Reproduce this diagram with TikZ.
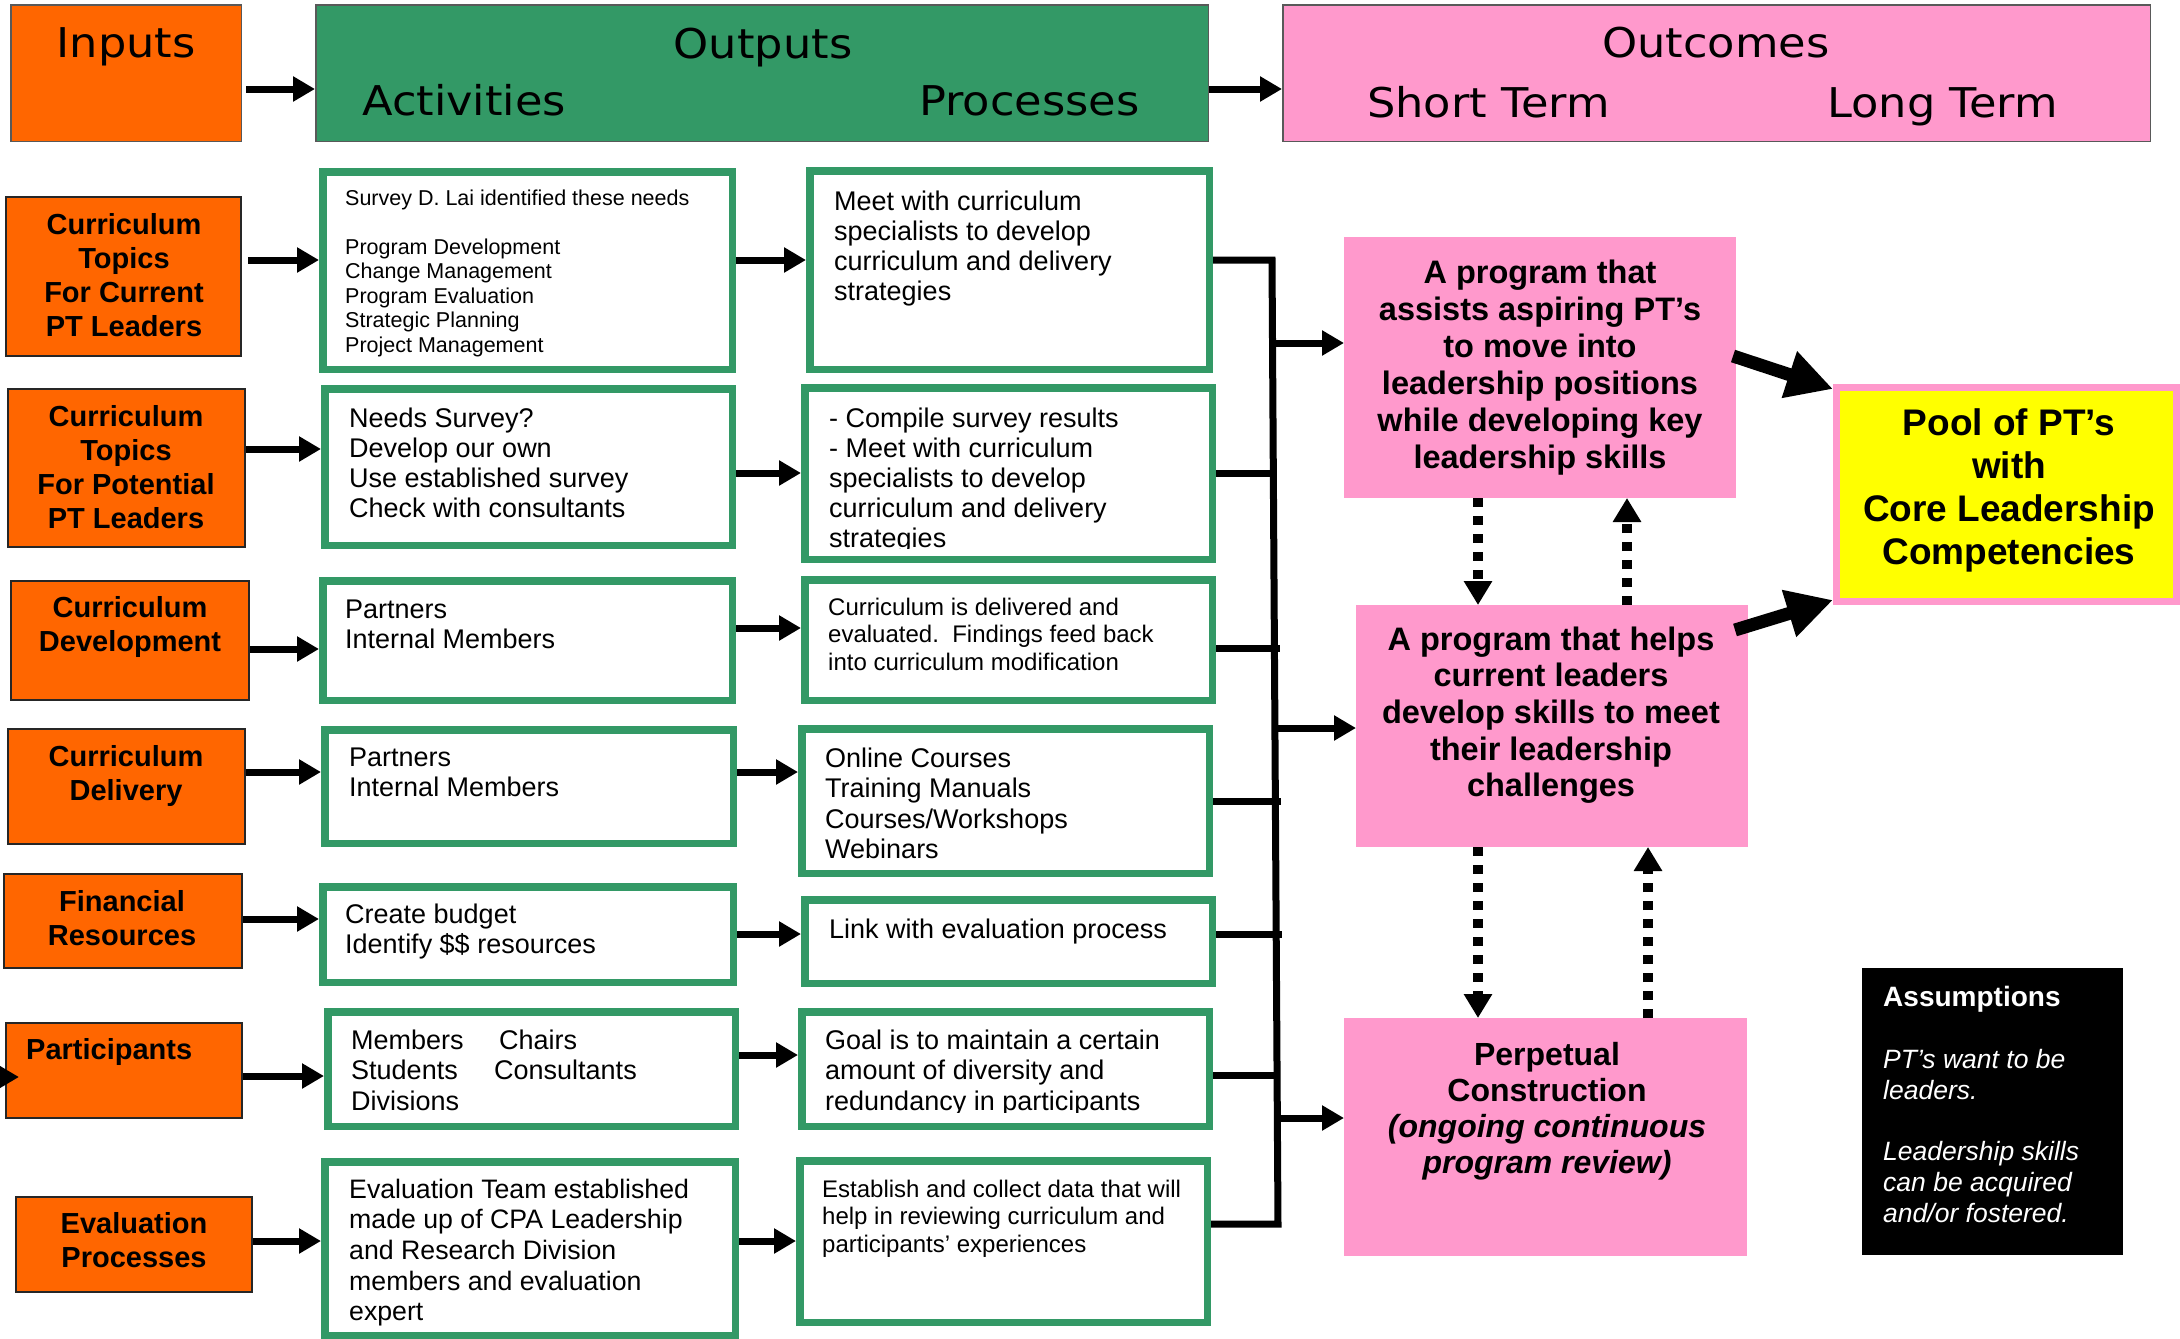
\documentclass[tikz,border=0pt]{standalone}
\usepackage{fontspec}
\setmainfont{Liberation Sans}
\newfontfamily\hdrfont[FakeStretch=1.09]{DejaVu Sans}
\usetikzlibrary{arrows.meta,calc}
\definecolor{org}{HTML}{FF6600}
\definecolor{grn}{HTML}{339966}
\definecolor{pnk}{HTML}{FF99CC}
\definecolor{ylw}{HTML}{FFFF00}
\newcommand\bx[7]{\node[#2,minimum width={#5-#3-#7},minimum height={#6-#4-#7}] (#1) at ({(#3+#5)/2},{(#4+#6)/2}) {};}
\newcommand\tl[1]{\begin{tabular}[t]{@{}l@{}}#1\end{tabular}}
\newcommand\tc[1]{\begin{tabular}[t]{@{}c@{}}#1\end{tabular}}
\begin{document}
\begin{tikzpicture}[x=1pt,y=-1pt,
  hdrbox/.style={draw=black!65,line width=1.5pt,inner sep=0pt},
  orgbox/.style={draw=black!85,fill=org,line width=2pt,inner sep=0pt},
  actbox/.style={draw=grn,fill=white,line width=7.5pt,inner sep=0pt},
  pinkbox/.style={fill=pnk,draw=none,inner sep=0pt,outer sep=0pt},
  yelbox/.style={fill=ylw,draw=pnk,line width=7pt,inner sep=0pt},
  assbox/.style={fill=black,draw=none,inner sep=0pt,outer sep=0pt},
  arr/.style={line width=7pt,-{Triangle[length=22pt,width=24pt]}},
  conn/.style={line width=7pt,line join=miter},
  bigarr/.style={line width=13pt,-{Triangle[length=46pt,width=46pt]}},
  dotarr/.style={line width=10pt,dash pattern=on 9pt off 9pt,-{Triangle[length=24pt,width=27pt]}},
  hdr/.style={inner sep=0pt,font=\hdrfont\fontsize{41}{48}\selectfont},
  otx/.style={inner sep=0pt,anchor=base,font=\bfseries\fontsize{29}{34}\selectfont},
  tx/.style={inner sep=0pt,anchor=base west,font=\fontsize{27}{30.5}\selectfont},
  stx/.style={inner sep=0pt,anchor=base west,font=\fontsize{24}{27.5}\selectfont},
  ptx/.style={inner sep=0pt,anchor=base,font=\bfseries\fontsize{32.5}{37}\selectfont}]
\useasboundingbox (0,0) rectangle (2180,1339);
\fill[white] (0,0) rectangle (2180,1339);
% header
\bx{hin}{hdrbox,fill=org}{10}{4}{242}{142}{1.5}
\bx{hout}{hdrbox,fill=grn}{315}{4}{1209}{142}{1.5}
\bx{hoc}{hdrbox,fill=pnk}{1282}{4}{2151}{142}{1.5}
\node[hdr,anchor=base] (tin) at (126,57) {Inputs};
\node[hdr,anchor=base] (tout) at (763,58) {Outputs};
\node[hdr,anchor=base west] (tact) at (362,115) {Activities};
\node[hdr,anchor=base west] (tproc) at (919,115) {Processes};
\node[hdr,anchor=base] (toc) at (1716,57) {Outcomes};
\node[hdr,anchor=base west] (tst) at (1367,117) {Short Term};
\node[hdr,anchor=base west] (tlt) at (1827,117) {Long Term};
\coordinate (hy) at (0,89);
\draw[arr] ($(hin.east |- hy)+(4,0)$) -- (hout.west |- hy);
\draw[arr] (hout.east |- hy) -- (hoc.west |- hy);
% inputs column
\bx{o1}{orgbox}{5}{196}{242}{357}{2}
\bx{o2}{orgbox}{7}{388}{246}{548}{2}
\bx{o3}{orgbox}{10}{580}{250}{701}{2}
\bx{o4}{orgbox}{7}{728}{246}{845}{2}
\bx{o5}{orgbox}{3}{873}{243}{969}{2}
\bx{o6}{orgbox}{5}{1022}{243}{1119}{2}
\bx{o7}{orgbox}{15}{1196}{253}{1293}{2}
\node[otx] (to1) at (124,234) {\tc{Curriculum\\Topics\\For Current\\PT Leaders}};
\node[otx] (to2) at (126,426) {\tc{Curriculum\\Topics\\For Potential\\PT Leaders}};
\node[otx] (to3) at (130,617) {\tc{Curriculum\\Development}};
\node[otx] (to4) at (126,766) {\tc{Curriculum\\Delivery}};
\node[otx] (to5) at (122,911) {\tc{Financial\\Resources}};
\node[otx,anchor=base west] (to6) at (26,1059) {Participants};
\node[otx] (to7) at (134,1233) {\tc{Evaluation\\Processes}};
% activities column
\bx{a1}{actbox}{319}{168}{736}{373}{7.5}
\bx{a2}{actbox}{321}{385}{736}{549}{7.5}
\bx{a3}{actbox}{319}{577}{736}{704}{7.5}
\bx{a4}{actbox}{321}{726}{737}{847}{7.5}
\bx{a5}{actbox}{319}{883}{737}{986}{7.5}
\bx{a6}{actbox}{324}{1008}{739}{1130}{7.5}
\bx{a7}{actbox}{321}{1158}{739}{1339}{7.5}
\node[tx,font=\fontsize{21.5}{24.5}\selectfont] (ta1) at (345,205) {\tl{Survey D. Lai identified these needs\\ \\Program Development\\Change Management\\Program Evaluation\\Strategic Planning\\Project Management}};
\node[tx,font=\fontsize{27}{30}\selectfont] (ta2) at (349,427) {\tl{Needs Survey?\\Develop our own\\Use established survey\\Check with consultants}};
\node[tx] (ta3) at (345,618) {\tl{Partners\\Internal Members}};
\node[tx] (ta4) at (349,766) {\tl{Partners\\Internal Members}};
\node[tx] (ta5) at (345,923) {\tl{Create budget\\Identify \$\$ resources}};
\node[tx] (ta6) at (351,1049) {\tl{\makebox[148pt][l]{Members}Chairs\\\makebox[143pt][l]{Students}Consultants\\Divisions}};
\node[tx,font=\fontsize{26.7}{30.7}\selectfont] (ta7) at (349,1198) {\tl{Evaluation Team established\\made up of CPA Leadership\\and Research Division\\members and evaluation\\expert}};
% processes column
\bx{p1}{actbox}{806}{167}{1213}{373}{7.5}
\bx{p2}{actbox}{801}{384}{1216}{563}{7.5}
\bx{p3}{actbox}{801}{576}{1216}{704}{7.5}
\bx{p4}{actbox}{798}{725}{1213}{877}{7.5}
\bx{p5}{actbox}{801}{896}{1216}{987}{7.5}
\bx{p6}{actbox}{798}{1008}{1213}{1130}{7.5}
\bx{p7}{actbox}{796}{1157}{1211}{1326}{7.5}
\node[tx,font=\fontsize{27}{30}\selectfont] (tp1) at (834,210) {\tl{Meet with curriculum\\specialists to develop\\curriculum and delivery\\strategies}};
\begin{scope}
\clip (801,384) rectangle (1216,548);
\node[tx,font=\fontsize{27}{30}\selectfont] (tp2) at (829,427) {\tl{- Compile survey results\\- Meet with curriculum\\specialists to develop\\curriculum and delivery\\strategies}};
\end{scope}
\node[stx] (tp3) at (828,615) {\tl{Curriculum is delivered and\\evaluated.\ \ Findings feed back\\into curriculum modification}};
\node[tx] (tp4) at (825,767) {\tl{Online Courses\\Training Manuals\\Courses/Workshops\\Webinars}};
\node[tx] (tp5) at (829,938) {Link with evaluation process};
\begin{scope}
\clip (798,1008) rectangle (1213,1112);
\node[tx] (tp6) at (825,1049) {\tl{Goal is to maintain a certain\\amount of diversity and\\redundancy in participants}};
\end{scope}
\node[stx] (tp7) at (822,1197) {\tl{Establish and collect data that will\\help in reviewing curriculum and\\participants’ experiences}};
% outcomes
\bx{r1}{pinkbox}{1344}{237}{1736}{498}{0}
\bx{r2}{pinkbox}{1356}{605}{1748}{847}{0}
\bx{r3}{pinkbox}{1344}{1018}{1747}{1256}{0}
\bx{yel}{yelbox}{1833}{384}{2180}{605}{7}
\bx{ass}{assbox}{1862}{968}{2123}{1255}{0}
\node[ptx] (tr1) at (1540,283) {\tc{A program that\\assists aspiring PT’s\\to move into\\leadership positions\\while developing key\\leadership skills}};
\node[ptx,font=\bfseries\fontsize{32.5}{36.7}\selectfont] (tr2) at (1551,650) {\tc{A program that helps\\current leaders\\develop skills to meet\\their leadership\\challenges}};
\node[ptx,font=\bfseries\fontsize{32}{36}\selectfont] (tr3) at (1547,1065) {\tc{Perpetual\\Construction\\\textit{(ongoing continuous}\\\textit{program review)}}};
\node[ptx,font=\bfseries\fontsize{37}{43}\selectfont] (tyel) at (2009,435) {\tc{Pool of PT’s\\with\\Core Leadership\\Competencies}};
\node[tx,text=white,font=\bfseries\fontsize{28}{32}\selectfont] (tass) at (1883,1006) {Assumptions};
\node[tx,text=white,font=\itshape\fontsize{26.5}{31}\selectfont] (tass2) at (1883,1068) {\tl{PT’s want to be\\leaders.\\[30pt]Leadership skills\\can be acquired\\and/or fostered.}};
% row arrows inputs -> activities
\coordinate (y1) at (0,260);
\coordinate (y2) at (0,449);
\coordinate (y3) at (0,649);
\coordinate (y4) at (0,772);
\coordinate (y5) at (0,919);
\coordinate (y6) at (0,1076);
\coordinate (y7) at (0,1241);
\draw[arr] ($(o1.east |- y1)+(6,0)$) -- (a1.west |- y1);
\draw[arr] (o2.east |- y2) -- (a2.west |- y2);
\draw[arr] (o3.east |- y3) -- (a3.west |- y3);
\draw[arr] (o4.east |- y4) -- (a4.west |- y4);
\draw[arr] (o5.east |- y5) -- (a5.west |- y5);
\draw[arr] (o6.east |- y6) -- (a6.west |- y6);
\draw[arr] (o7.east |- y7) -- (a7.west |- y7);
\coordinate (lin) at (-30,1077);
\draw[arr] (lin) -- ($(o6.west |- lin)+(14,0)$);
% activities -> processes
\coordinate (z1) at (0,260);
\coordinate (z2) at (0,473);
\coordinate (z3) at (0,628);
\coordinate (z4) at (0,772);
\coordinate (z5) at (0,934);
\coordinate (z6) at (0,1055);
\coordinate (z7) at (0,1241);
\draw[arr] (a1.east |- z1) -- (p1.west |- z1);
\draw[arr] (a2.east |- z2) -- (p2.west |- z2);
\draw[arr] (a3.east |- z3) -- (p3.west |- z3);
\draw[arr] (a4.east |- z4) -- (p4.west |- z4);
\draw[arr] (a5.east |- z5) -- (p5.west |- z5);
\draw[arr] (a6.east |- z6) -- (p6.west |- z6);
\draw[arr] (a7.east |- z7) -- (p7.west |- z7);
% bus
\coordinate (j1) at (1272,260);
\coordinate (j2) at (1273.3,473);
\coordinate (j3) at (1274.4,648);
\coordinate (j4) at (1275.3,801);
\coordinate (j5) at (1276.2,934);
\coordinate (j6) at (1277.1,1075);
\coordinate (j7) at (1278,1224);
\coordinate (k1) at (1272.5,343);
\coordinate (k2) at (1274.9,728);
\coordinate (k3) at (1277.3,1118);
\draw[conn] (p1.east |- j1) -- (j1) -- (j7) -- (p7.east |- j7);
\draw[conn] (p2.east |- j2) -- ($(j2)+(4,0)$);
\draw[conn] (p3.east |- j3) -- ($(j3)+(6,0)$);
\draw[conn] (p4.east |- j4) -- ($(j4)+(6,0)$);
\draw[conn] (p5.east |- j5) -- ($(j5)+(6,0)$);
\draw[conn] (p6.east |- j6) -- ($(j6)+(2,0)$);
\draw[arr] (k1) -- (r1.west |- k1);
\draw[arr] (k2) -- (r2.west |- k2);
\draw[arr] (k3) -- (r3.west |- k3);
% to pool
\draw[bigarr] ($(r1.north east)+(-3,119)$) -- ($(yel.north west)+(0,5)$);
\draw[bigarr] ($(r2.north east)+(-13,25)$) -- ($(yel.south west)+(0,-5)$);
% feedback dotted
\coordinate (d1s) at ($(r1.south west)+(134,0)$);
\coordinate (d2s) at ($(r2.north west)+(271,0)$);
\coordinate (d3s) at ($(r2.south west)+(122,0)$);
\coordinate (d4s) at ($(r3.north west)+(304,0)$);
\draw[dotarr] (d1s) -- (r2.north -| d1s);
\draw[dotarr] (d2s) -- (r1.south -| d2s);
\draw[dotarr] (d3s) -- (r3.north -| d3s);
\draw[dotarr] (d4s) -- (r2.south -| d4s);
\end{tikzpicture}
\end{document}
